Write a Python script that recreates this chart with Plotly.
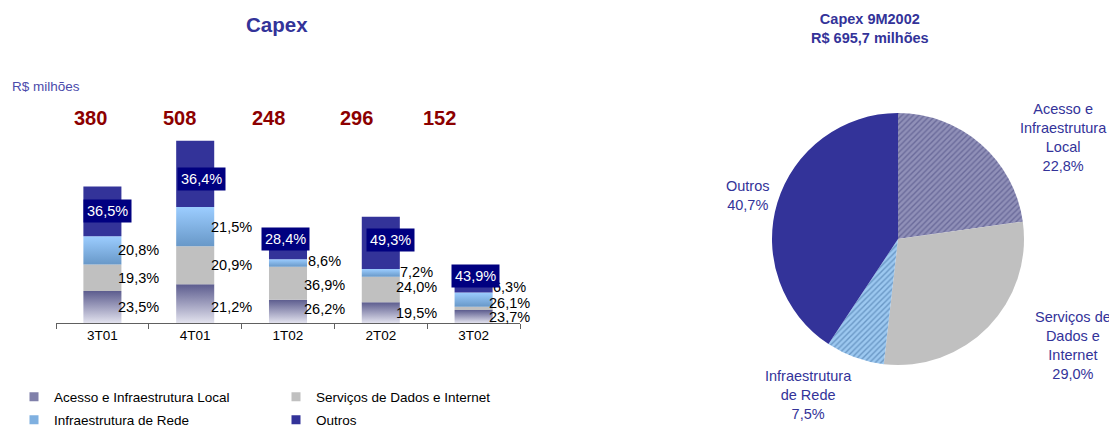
import plotly.graph_objects as go

quarters = ["3T01", "4T01", "1T02", "2T02", "3T02"]
totals = [380, 508, 248, 296, 152]
acesso = [23.5, 21.2, 26.2, 19.5, 23.7]
servicos = [19.3, 20.9, 36.9, 24.0, 6.3]
infra = [20.8, 21.5, 8.6, 7.2, 26.1]
outros = [36.5, 36.4, 28.4, 49.3, 43.9]

pie_names = ["Acesso e Infraestrutura Local", "Serviços de Dados e Internet",
             "Infraestrutura de Rede", "Outros"]
pie_values = [22.8, 29.0, 7.5, 40.7]
pie_text = ["Acesso e<br>Infraestrutura<br>Local", "Serviços de<br>Dados e<br>Internet",
            "Infraestrutura<br>de Rede", "Outros"]

FONT = "Liberation Sans, Arial, sans-serif"
NAVY = "#333399"
OFF = 8  # page body margin
W, H = 1117 - OFF, 428 - OFF


def pct(v):
    return f"{v:.1f}%".replace(".", ",")


def px(x, y):
    # screen pixel -> paper fraction
    return (x - OFF) / W, (428 - y) / H


def paper_text(x, y, text, size, color, xanchor="center"):
    ax, ay = px(x, y)
    fig.add_annotation(x=ax, y=ay, xref="paper", yref="paper", text=text, showarrow=False,
                       xanchor=xanchor, yanchor="middle",
                       font={"family": FONT, "size": size, "color": color})


series = [
    ("Acesso e Infraestrutura Local", acesso, ["#e2e2ee", "#5c5c8e"], "#8080aa"),
    ("Serviços de Dados e Internet", servicos, ["#c0c0c0", "#c0c0c0"], "#c0c0c0"),
    ("Infraestrutura de Rede", infra, ["#6898c8", "#9ccdff"], "#7fb0e0"),
    ("Outros", outros, [NAVY, NAVY], NAVY),
]

fig = go.Figure()
half = 0.205
base = [0.0] * len(quarters)
centers = {}
for name, vals, grad, _ in series:
    centers[name] = []
    for i, (tot, v) in enumerate(zip(totals, vals)):
        h = tot * v / 100
        b, t = base[i], base[i] + h
        fig.add_trace(go.Scatter(
            x=[i - half, i + half, i + half, i - half, i - half], y=[b, b, t, t, b],
            mode="lines", line={"width": 0}, fill="toself",
            fillgradient={"type": "vertical", "colorscale": [[0, grad[0]], [1, grad[1]]]},
            hoverinfo="skip", showlegend=False))
        centers[name].append((b + t) / 2)
        base[i] = t

# legend-only swatches, one small legend per entry (2 x 2 grid)
legend_of = {"Acesso e Infraestrutura Local": "legend", "Serviços de Dados e Internet": "legend2",
             "Infraestrutura de Rede": "legend3", "Outros": "legend4"}
for name, _, _, swatch in series:
    fig.add_trace(go.Scatter(x=[None], y=[None], mode="markers", name=name,
                             marker={"symbol": "square", "size": 9, "color": swatch},
                             legend=legend_of[name]))

# segment labels
label_shift = {
    "Acesso e Infraestrutura Local": [0, -3, 2, 0, 0],
    "Serviços de Dados e Internet": [0, 0, -2, 3, 21],
    "Infraestrutura de Rede": [0, 0, 2, 1, -3],
}
for name, vals, _, _ in series[:3]:
    for i, v in enumerate(vals):
        fig.add_annotation(x=i + 0.39, y=centers[name][i], text=pct(v), showarrow=False,
                           yshift=label_shift[name][i],
                           font={"family": FONT, "size": 14.5, "color": "black"})

box_dx = [5, 6, -3, 10, 2]
box_dy = [0, -5, 8, 3, 4]
for i, v in enumerate(outros):
    fig.add_annotation(x=i, y=centers["Outros"][i], text=pct(v), showarrow=False,
                       xshift=box_dx[i], yshift=box_dy[i], bgcolor="#000080", borderpad=3,
                       font={"family": FONT, "size": 14.5, "color": "white"})

total_dx = [-12, -16, -20, -24, -34]
for i, tot in enumerate(totals):
    fig.add_annotation(x=i, y=px(0, 118)[1], yref="paper", yanchor="middle", text=f"<b>{tot}</b>",
                       showarrow=False, xshift=total_dx[i],
                       font={"family": FONT, "size": 20, "color": "#8c0000"})

px0, py0 = px(772, 365)
px1, py1 = px(1024, 113)
fig.add_trace(go.Pie(
    labels=pie_names, values=pie_values, sort=False, direction="clockwise", rotation=0,
    textinfo="none", hoverinfo="skip", showlegend=False,
    marker={"colors": ["#8686b0", "#c0c0c0", "#8fbde8", NAVY],
            "pattern": {"shape": ["/", "", "/", ""], "fillmode": "replace",
                        "bgcolor": ["#9090b8", "#c0c0c0", "#9cc8f0", NAVY],
                        "fgcolor": ["#6a6a9a", "#c0c0c0", "#6a98c6", NAVY],
                        "size": 4, "solidity": 0.35},
            "line": {"width": 0}},
    domain={"x": [px0, px1], "y": [py0, py1]}))

pie_pos = [(1063, 137), (1073, 345), (808, 395), (748, 196)]
for txt, v, (x, y) in zip(pie_text, pie_values, pie_pos):
    paper_text(x, y, f"{txt}<br>{pct(v)}", 14.5, NAVY)

paper_text(870, 28, "<b>Capex 9M2002</b><br><b>R$ 695,7 milhões</b>", 14.5, NAVY)
paper_text(277, 25, "<b>Capex</b>", 20.5, NAVY)
paper_text(10, 86, "R$ milhões", 13.5, "#4b4bab", xanchor="left")

scale = 0.359
xd0, yd0 = px(56, 323)
xd1, yd1 = px(520, 100)
legend_style = {"xanchor": "left", "yanchor": "middle", "font": {"family": FONT, "size": 13.5},
                "itemwidth": 30, "bgcolor": "rgba(0,0,0,0)"}
fig.update_layout(
    width=W, height=H, margin={"l": 0, "r": 0, "t": 0, "b": 0, "autoexpand": False},
    paper_bgcolor="white", plot_bgcolor="white",
    font={"family": FONT, "size": 13.5, "color": "black"},
    xaxis={"domain": [xd0, xd1], "range": [-0.5, 4.5], "tickvals": list(range(len(quarters))),
           "ticktext": quarters, "ticks": "", "showgrid": False, "zeroline": False,
           "showline": True, "linecolor": "#606060", "linewidth": 1,
           "minor": {"tickvals": [i - 0.5 for i in range(len(quarters) + 1)], "ticks": "outside",
                     "ticklen": 5, "tickcolor": "#606060", "showgrid": False}},
    yaxis={"domain": [yd0, yd1], "range": [0, 223 / scale], "visible": False},
    legend={**legend_style, "x": px(14, 0)[0], "y": px(0, 397)[1]},
    legend2={**legend_style, "x": px(276, 0)[0], "y": px(0, 397)[1]},
    legend3={**legend_style, "x": px(14, 0)[0], "y": px(0, 420)[1]},
    legend4={**legend_style, "x": px(276, 0)[0], "y": px(0, 420)[1]},
)

fig.write_html("out.html")
